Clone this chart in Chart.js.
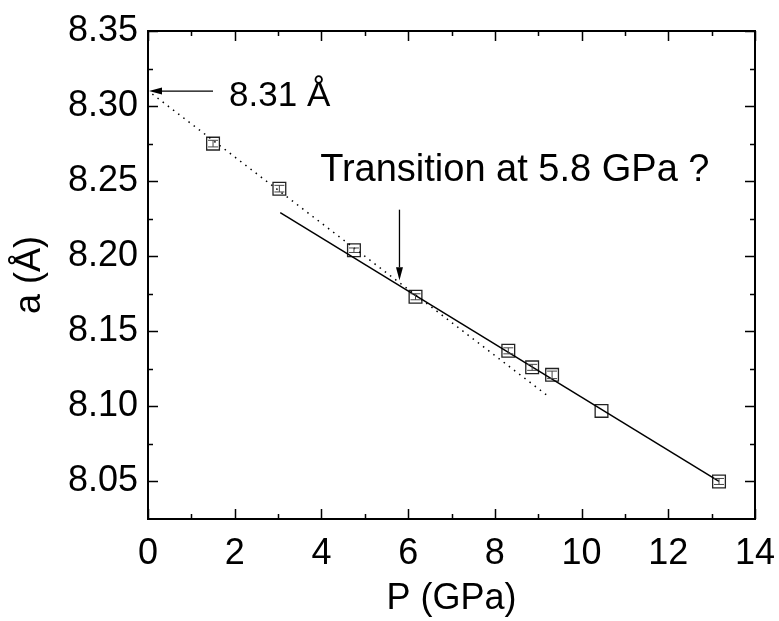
<!DOCTYPE html>
<html>
<head>
<meta charset="utf-8">
<title>Lattice parameter vs pressure</title>
<script src="https://cdn.jsdelivr.net/npm/chart.js@4.4.1/dist/chart.umd.min.js"></script>
<style>
    html, body { margin: 0; padding: 0; background: #fff; }
    #wrap { width: 779px; height: 621px; }
</style>
</head>
<body>
<div id="wrap"><canvas id="chart" width="779" height="621"></canvas></div>
<script>
// measured points: pressure (GPa), lattice parameter a (Å), error bar half-height
const pressure = [1.50, 3.03, 4.75, 6.17, 8.31, 8.86, 9.32, 10.46, 13.17];
const latticeA = [8.275, 8.245, 8.204, 8.173, 8.137, 8.126, 8.121, 8.097, 8.050];
const latticeErr = [0.0022, 0.0022, 0.0015, 0.002, 0.002, 0.002, 0.0025, 0, 0.002];

// linear fits (end points of the drawn segments)
const fitHighP = [3.05, 13.17];
const fitHighA = [8.229, 8.050];
const fitLowP = [0.10, 9.22];
const fitLowA = [8.308, 8.107];

// axis ticks
const xTicks = [0, 2, 4, 6, 8, 10, 12, 14];
const xMinorTicks = [1, 3, 5, 7, 9, 11, 13];
const yTicks = [8.05, 8.10, 8.15, 8.20, 8.25, 8.30, 8.35];
const yMinorTicks = [8.075, 8.125, 8.175, 8.225, 8.275, 8.325];

// annotations
const zeroPressureA = 8.31;
const zeroArrowP = [1.5, 0];
const transitionP = 5.8;
const transitionArrowA = [8.231, 8.184];
const labelZero = { text: '8.31 Å', p: 1.87, a: 8.30, size: 35 };
const labelTransition = { text: 'Transition at 5.8 GPa ?', p: 3.97, a: 8.25, size: 38 };

const FONT = 'Arial, "Liberation Sans", sans-serif';
const FONT_SIZE = 36;

const toXY = (xs, ys) => xs.map((x, i) => ({ x: x, y: ys[i] }));

/**
 * Draw a straight arrow with a filled head at (x2, y2)
 */
function drawArrow(ctx, x1, y1, x2, y2, headLen = 13, headHalf = 3.5) {
    const ang = Math.atan2(y2 - y1, x2 - x1);
    const bx = x2 - headLen * Math.cos(ang);
    const by = y2 - headLen * Math.sin(ang);
    ctx.beginPath();
    ctx.moveTo(x1, y1);
    ctx.lineTo(bx, by);
    ctx.stroke();
    ctx.beginPath();
    ctx.moveTo(x2, y2);
    ctx.lineTo(bx - headHalf * Math.sin(ang), by + headHalf * Math.cos(ang));
    ctx.lineTo(bx + headHalf * Math.sin(ang), by - headHalf * Math.cos(ang));
    ctx.closePath();
    ctx.fill();
}

// vertical error bars drawn inside the square markers
const errorBarPlugin = {
    id: 'errorBars',
    afterDatasetsDraw(chart) {
        const { ctx, scales: { x, y } } = chart;
        ctx.save();
        ctx.strokeStyle = '#444';
        ctx.lineWidth = 1;
        pressure.forEach((p, i) => {
            if (!latticeErr[i]) return;
            const px = x.getPixelForValue(p);
            const top = y.getPixelForValue(latticeA[i] + latticeErr[i]);
            const bot = y.getPixelForValue(latticeA[i] - latticeErr[i]);
            ctx.beginPath();
            ctx.moveTo(px, top); ctx.lineTo(px, bot);
            ctx.moveTo(px - 5, top); ctx.lineTo(px + 5, top);
            ctx.moveTo(px - 5, bot); ctx.lineTo(px + 5, bot);
            ctx.stroke();
        });
        ctx.restore();
    }
};

// closed frame with inward ticks on all four sides
const framePlugin = {
    id: 'frame',
    afterDatasetsDraw(chart) {
        const { ctx, chartArea: a, scales: { x, y } } = chart;
        ctx.save();
        ctx.strokeStyle = '#000';
        ctx.lineWidth = 1.5;
        const tick = (vals, len, horizontal) => {
            vals.forEach(v => {
                ctx.beginPath();
                if (horizontal) {
                    const px = Math.round(x.getPixelForValue(v)) + 0.5;
                    ctx.moveTo(px, a.bottom); ctx.lineTo(px, a.bottom - len);
                    ctx.moveTo(px, a.top); ctx.lineTo(px, a.top + len);
                } else {
                    const py = Math.round(y.getPixelForValue(v)) + 0.5;
                    ctx.moveTo(a.left, py); ctx.lineTo(a.left + len, py);
                    ctx.moveTo(a.right, py); ctx.lineTo(a.right - len, py);
                }
                ctx.stroke();
            });
        };
        tick(xTicks, 10, true);
        tick(xMinorTicks, 5, true);
        tick(yTicks, 10, false);
        tick(yMinorTicks, 5, false);
        ctx.lineWidth = 2;
        ctx.strokeRect(a.left, a.top, a.right - a.left, a.bottom - a.top);
        ctx.restore();
    }
};

// arrows and text labels
const annotationPlugin = {
    id: 'notes',
    afterDatasetsDraw(chart) {
        const { ctx, scales: { x, y } } = chart;
        ctx.save();
        ctx.strokeStyle = '#000';
        ctx.fillStyle = '#000';
        ctx.lineWidth = 1.3;
        const ya = y.getPixelForValue(zeroPressureA);
        drawArrow(ctx, x.getPixelForValue(zeroArrowP[0]), ya, x.getPixelForValue(zeroArrowP[1]) + 1, ya);
        const xt = x.getPixelForValue(transitionP);
        drawArrow(ctx, xt, y.getPixelForValue(transitionArrowA[0]), xt, y.getPixelForValue(transitionArrowA[1]));

        ctx.textBaseline = 'alphabetic';
        ctx.textAlign = 'left';
        [labelZero, labelTransition].forEach(l => {
            ctx.font = `${l.size}px ${FONT}`;
            ctx.fillText(l.text, x.getPixelForValue(l.p), y.getPixelForValue(l.a));
        });
        ctx.restore();
    }
};

new Chart(document.getElementById('chart'), {
    type: 'scatter',
    data: {
        datasets: [
            {
                label: 'fit low',
                data: toXY(fitLowP, fitLowA),
                showLine: true,
                borderColor: '#000',
                borderWidth: 1.5,
                borderDash: [1.5, 5],
                pointRadius: 0
            },
            {
                label: 'fit high',
                data: toXY(fitHighP, fitHighA),
                showLine: true,
                borderColor: '#000',
                borderWidth: 1.5,
                pointRadius: 0
            },
            {
                label: 'a',
                data: toXY(pressure, latticeA),
                pointStyle: 'rect',
                pointRadius: 9,
                pointBorderWidth: 1.3,
                pointBorderColor: '#222',
                pointBackgroundColor: 'rgba(0,0,0,0)'
            }
        ]
    },
    options: {
        responsive: false,
        animation: false,
        devicePixelRatio: 1,
        layout: { padding: { top: 31, right: 24, bottom: 0, left: 0 } },
        plugins: {
            legend: { display: false },
            tooltip: { enabled: false }
        },
        scales: {
            x: {
                type: 'linear',
                min: 0,
                max: 14,
                grid: { display: false },
                border: { display: false },
                afterBuildTicks: s => { s.ticks = xTicks.map(v => ({ value: v })); },
                afterFit: s => {
                    s.height = 102;
                    s.paddingLeft = 0;
                    s.paddingRight = 0;
                },
                ticks: {
                    color: '#000',
                    padding: 5,
                    maxRotation: 0,
                    font: { family: FONT, size: FONT_SIZE },
                    callback: v => String(v)
                },
                title: {
                    display: true,
                    text: 'P (GPa)',
                    color: '#000',
                    padding: { top: 0, bottom: 0 },
                    font: { family: FONT, size: FONT_SIZE }
                }
            },
            y: {
                type: 'linear',
                min: 8.025,
                max: 8.35,
                grid: { display: false },
                border: { display: false },
                afterBuildTicks: s => { s.ticks = yTicks.map(v => ({ value: v })); },
                afterFit: s => {
                    s.width = 148;
                    s.paddingTop = 0;
                    s.paddingBottom = 0;
                },
                ticks: {
                    color: '#000',
                    padding: 2,
                    font: { family: FONT, size: FONT_SIZE },
                    callback: v => Number(v).toFixed(2)
                },
                title: {
                    display: true,
                    text: 'a (Å)',
                    color: '#000',
                    padding: { top: 8, bottom: 0 },
                    font: { family: FONT, size: FONT_SIZE }
                }
            }
        }
    },
    plugins: [errorBarPlugin, framePlugin, annotationPlugin]
});
</script>
</body>
</html>
